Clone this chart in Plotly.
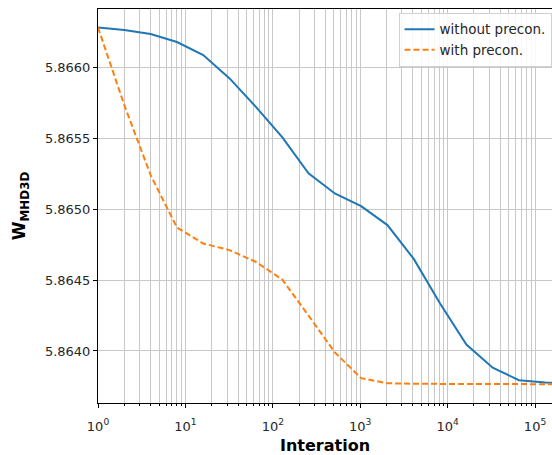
import numpy as np
import plotly.graph_objects as go

# Iteration counts (powers of two) and the energy W_MHD3D for each solver run
iterations = [1, 2, 4, 8, 16, 32, 64, 128, 256, 512, 1024, 2048, 4096,
              8192, 16384, 32768, 65536, 131072, 262144]
w_without_precon = [5.866285, 5.866266, 5.866238, 5.866182, 5.866090, 5.865925,
                    5.865724, 5.865510, 5.865254, 5.865112, 5.865023, 5.864889,
                    5.864650, 5.864335, 5.864045, 5.863882, 5.863793, 5.863777,
                    5.863770]
w_with_precon = [5.866285, 5.865736, 5.865242, 5.864872, 5.864759, 5.864712,
                 5.864629, 5.864505, 5.864250, 5.863990, 5.863808, 5.863772,
                 5.863768, 5.863767, 5.863766, 5.863765, 5.863765, 5.863765,
                 5.863765]

x_tick_vals = [1, 10, 100, 1000, 10000, 100000]
x_tick_text = ["10<sup>0</sup>", "10<sup>1</sup>", "10<sup>2</sup>",
               "10<sup>3</sup>", "10<sup>4</sup>", "10<sup>5</sup>"]
y_tick_vals = [5.8640, 5.8645, 5.8650, 5.8655, 5.8660]

grid_color = "#c8c8c8"
font_family = "DejaVu Sans"

fig = go.Figure()
fig.add_trace(go.Scatter(
    x=iterations, y=w_without_precon, mode="lines", name="without precon.",
    line=dict(color="#1f77b4", width=2),
))
fig.add_trace(go.Scatter(
    x=iterations, y=w_with_precon, mode="lines", name="with precon.",
    line=dict(color="#ff7f0e", width=2, dash="6px,3px"),
))

fig.update_layout(
    width=552, height=455,
    margin=dict(l=98, r=0, t=9, b=52),
    plot_bgcolor="white", paper_bgcolor="white",
    font=dict(family=font_family, size=13, color="#262626"),
    legend=dict(
        x=0.999, y=0.99, xanchor="right", yanchor="top",
        bgcolor="rgba(255,255,255,0.85)", bordercolor="#d0d0d0", borderwidth=1,
        font=dict(size=13.5, color="#262626"),
        tracegroupgap=0, itemwidth=30,
    ),
    showlegend=True,
)

fig.update_xaxes(
    type="log", range=[0, 5.194],
    tickvals=x_tick_vals, ticktext=x_tick_text,
    ticks="outside", ticklen=4, tickcolor="#000", tickwidth=1,
    ticklabelstandoff=7,
    showline=True, linecolor="#000", linewidth=1, mirror=True,
    showgrid=True, gridcolor=grid_color, gridwidth=1,
    minor=dict(ticks="outside", ticklen=2, tickcolor="#000",
               showgrid=True, gridcolor=grid_color, gridwidth=1, dtick="D1"),
    zeroline=False,
    title=dict(text="<b>Interation</b>", font=dict(size=16, color="#000"), standoff=8),
)
fig.update_yaxes(
    range=[5.8636325, 5.866415],
    tickvals=y_tick_vals, tickformat=".4f",
    ticks="outside", ticklen=4, tickcolor="#000", tickwidth=1,
    showline=True, linecolor="#000", linewidth=1, mirror=False,
    showgrid=True, gridcolor=grid_color, gridwidth=1,
    zeroline=False,
    title=dict(text="<b>W<sub>MHD3D</sub></b>", font=dict(size=17, color="#000"), standoff=14),
)

fig.write_html("out.html")
